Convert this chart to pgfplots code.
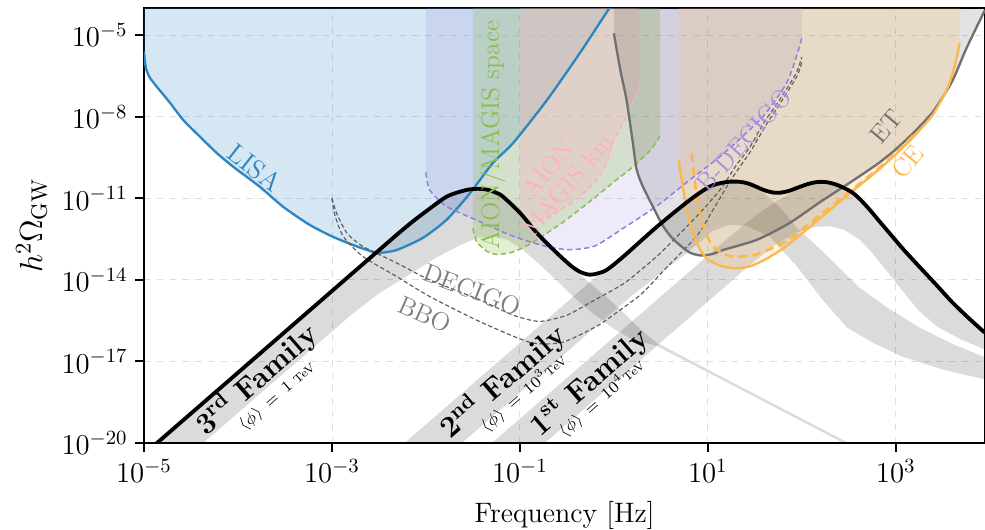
\RequirePackage{fix-cm}
\documentclass[border=0pt]{standalone}
\usepackage{pgfplots}
\pgfplotsset{compat=1.18}
\definecolor{lisablue}{RGB}{46,134,193}
\definecolor{aiongreen}{RGB}{140,190,75}
\definecolor{aionpink}{RGB}{255,176,188}
\definecolor{bdpurple}{RGB}{147,125,222}
\definecolor{etgray}{RGB}{112,112,112}
\definecolor{ceorange}{RGB}{252,183,78}
\definecolor{decgray}{RGB}{95,95,95}
\definecolor{labgray}{RGB}{125,125,125}
\begin{document}
\begin{tikzpicture}
\begin{axis}[name=ax, scale only axis, width=394.8pt, height=204.2pt,
  xmin=-5, xmax=3.95, ymin=-20, ymax=-4,
  xtick={-5,-3,-1,1,3}, xticklabels={$10^{-5}$,$10^{-3}$,$10^{-1}$,$10^{1}$,$10^{3}$},
  ytick={-20,-17,-14,-11,-8,-5}, yticklabels={$10^{-20}$,$10^{-17}$,$10^{-14}$,$10^{-11}$,$10^{-8}$,$10^{-5}$},
  tick align=outside, tick pos=left, major tick length=4.2pt,
  tick style={line width=0.9pt, black}, axis line style={line width=0.9pt},
  grid=major, grid style={dashed, line width=0.4pt, black!13},
  ticklabel style={font=\fontsize{13.5}{15}\selectfont},
  xlabel={Frequency [Hz]}, ylabel={$h^2\Omega_{\rm GW}$},
  xlabel style={font=\fontsize{13.2}{15}\selectfont, yshift=-2pt},
  ylabel style={font=\fontsize{15}{17}\selectfont},
  clip=true]

% ---------- family bands ----------
\addplot[draw=none, fill=black, fill opacity=0.14] coordinates {
(-5.2,-21) (-4.862,-20) (-2.6,-13.2) (-2.2,-12.02) (-1.96,-11.38) (-1.78,-10.94) (-1.64,-10.76) (-1.55,-10.68) (-1.45,-10.65) (-1.35,-10.68) (-1.25,-10.8) (-1.18,-10.94) (-1.0,-11.53) (-0.82,-12.27) (-0.61,-13.0) (-0.44,-13.55) (-0.255,-14.12) (-0.074,-14.65) (0.1,-15.2) (0.277,-15.8) (0.45,-16.3) (1.0,-17.3) (2.0,-19.1) (3.0,-20.9)
(3.0,-21.0) (2.0,-19.2) (1.0,-17.4) (0.45,-16.42) (0.2,-16.2) (0.0,-15.8) (-0.25,-15.15) (-0.44,-14.6) (-0.6,-14.05) (-0.8,-13.4) (-1.0,-12.8) (-1.15,-12.5) (-1.3,-12.4) (-1.45,-12.45) (-1.65,-12.75) (-1.9,-13.2) (-2.2,-13.85) (-2.5,-14.5) (-2.8,-15.3) (-4.37,-20) (-4.7,-21)
} -- cycle;
\addplot[draw=none, fill=black, fill opacity=0.14] coordinates {
(-2.56,-21) (-0.2,-13.92) (0.1,-13.05) (0.45,-12.05) (0.8,-11.08) (1.0,-10.62) (1.15,-10.43) (1.3,-10.38) (1.45,-10.5) (1.6,-10.82) (1.77,-11.35) (1.94,-12.05) (2.22,-12.95) (2.44,-13.7) (2.62,-14.3) (2.9,-15.0) (3.25,-15.75) (3.6,-16.35) (3.95,-16.85) (4.1,-17.0)
(4.1,-17.75) (3.95,-17.66) (3.5,-17.3) (3.07,-16.82) (2.75,-16.3) (2.48,-15.75) (2.22,-14.73) (1.95,-13.51) (1.66,-12.41) (1.415,-12.02) (1.234,-11.97) (1.05,-12.2) (0.8,-12.95) (0.5,-13.75) (0.17,-14.64) (-1.617,-20) (-1.95,-21)
} -- cycle;
\addplot[draw=none, fill=black, fill opacity=0.14] coordinates {
(-1.63,-21) (-1.298,-20) (1.2,-12.51) (1.5,-11.65) (1.73,-11.1) (1.9,-10.78) (2.085,-10.5) (2.19,-10.42) (2.27,-10.43) (2.37,-10.5) (2.543,-10.8) (2.723,-11.42) (2.904,-12.16) (3.074,-12.89) (3.255,-13.51) (3.436,-14.25) (3.606,-14.84) (3.787,-15.46) (3.947,-15.94) (4.1,-16.3)
(4.1,-16.75) (3.95,-16.56) (3.7,-16.2) (3.44,-15.72) (3.25,-15.15) (3.07,-14.4) (2.9,-13.65) (2.72,-12.89) (2.62,-12.53) (2.45,-12.15) (2.3,-12.03) (2.15,-12.05) (1.95,-12.25) (1.7,-12.75) (1.4,-13.6) (1.0,-14.8) (-0.734,-20) (-1.07,-21)
} -- cycle;

% ---------- detector fills ----------
\addplot[draw=none, fill=lisablue, fill opacity=0.2] coordinates {
(-5.0,-5.6) (-4.98,-6.2) (-4.94,-6.55) (-4.865,-6.89) (-4.72,-7.5) (-4.585,-8.11) (-4.4,-8.75) (-4.227,-9.33) (-4.05,-9.84) (-3.766,-10.58) (-3.52,-11.31) (-3.25,-11.95) (-3.0,-12.4) (-2.75,-12.75) (-2.52,-13.0) (-2.31,-12.9) (-2.03,-12.45) (-1.78,-11.79) (-1.53,-10.81) (-1.29,-9.71) (-1.07,-8.96) (-0.71,-7.38) (-0.36,-5.65) (-0.06,-4.07) (-0.04,-4.0) (-5.0,-4.0)
} -- cycle;
\addplot[draw=none, fill=bdpurple, fill opacity=0.16] coordinates {
(-2.0,-4) (-2.0,-10.05) (-1.96,-10.69) (-1.78,-11.3) (-1.43,-11.85) (-1.07,-12.4) (-0.72,-12.77) (-0.47,-12.89) (-0.2,-12.75) (0.1,-12.1) (0.45,-11.3) (0.81,-10.32) (1.17,-9.35) (1.585,-8.0) (1.84,-6.75) (1.96,-5.6) (2.0,-5.1) (2.0,-4)
} -- cycle;
\addplot[draw=none, fill=aiongreen, fill opacity=0.25] coordinates {
(-1.5,-4) (-1.5,-12.1) (-1.46,-12.6) (-1.35,-12.95) (-1.25,-13.06) (-1.1,-13.0) (-0.9,-12.7) (-0.55,-11.9) (-0.25,-11.1) (0.0,-10.4) (0.2,-9.85) (0.37,-9.3) (0.45,-8.95) (0.49,-8.7) (0.49,-4)
} -- cycle;
\addplot[draw=none, fill=aionpink, fill opacity=0.28] coordinates {
(-1.0,-4) (-1.0,-11.4) (-0.97,-11.7) (-0.9,-11.85) (-0.8,-11.8) (-0.6,-11.5) (-0.36,-10.93) (-0.18,-10.32) (-0.08,-9.71) (-0.01,-8.96) (0.135,-7.99) (0.27,-6.91) (0.27,-4)
} -- cycle;
\addplot[draw=none, fill=black, fill opacity=0.11] coordinates {
(0.0,-4) (0.0,-4.93) (0.07,-6.3) (0.135,-7.38) (0.2,-8.9) (0.24,-9.9) (0.3,-10.5) (0.415,-11.3) (0.52,-12.0) (0.63,-12.5) (0.8,-12.98) (0.92,-13.1) (1.05,-13.05) (1.163,-12.9) (1.52,-12.53) (1.87,-11.91) (2.19,-11.15) (2.5,-10.45) (2.8,-9.75) (3.0,-9.2) (3.2,-8.55) (3.4,-7.8) (3.6,-6.7) (3.75,-5.5) (3.95,-4.07) (3.95,-4)
} -- cycle;
\addplot[draw=none, fill=ceorange, fill opacity=0.18] coordinates {
(0.69,-4) (0.69,-9.6) (0.74,-10.7) (0.78,-11.5) (0.84,-12.3) (0.92,-12.9) (1.0,-13.25) (1.15,-13.5) (1.3,-13.57) (1.45,-13.5) (1.6,-13.27) (1.8,-12.85) (2.0,-12.3) (2.2,-11.72) (2.5,-10.85) (2.8,-10.0) (3.0,-9.38) (3.2,-8.7) (3.4,-7.9) (3.55,-6.95) (3.63,-6.1) (3.68,-5.3) (3.69,-4)
} -- cycle;

% ---------- detector curves ----------
\addplot[lisablue, line width=1.1pt, smooth, tension=0.4] coordinates {
(-5.0,-5.6) (-4.98,-6.2) (-4.94,-6.55) (-4.865,-6.89) (-4.72,-7.5) (-4.585,-8.11) (-4.4,-8.75) (-4.227,-9.33) (-4.05,-9.84) (-3.766,-10.58) (-3.52,-11.31) (-3.25,-11.95) (-3.0,-12.4) (-2.75,-12.75) (-2.52,-13.0) (-2.31,-12.9) (-2.03,-12.45) (-1.78,-11.79) (-1.53,-10.81) (-1.29,-9.71) (-1.07,-8.96) (-0.71,-7.38) (-0.36,-5.65) (-0.06,-4.07) (-0.04,-4.0)
};
\addplot[bdpurple, line width=0.7pt, dash pattern=on 2.5pt off 1.5pt, smooth, tension=0.4] coordinates {
(-2.0,-10.05) (-1.96,-10.69) (-1.78,-11.3) (-1.43,-11.85) (-1.07,-12.4) (-0.72,-12.77) (-0.47,-12.89) (-0.2,-12.75) (0.1,-12.1) (0.45,-11.3) (0.81,-10.32) (1.17,-9.35) (1.585,-8.0) (1.84,-6.75) (1.96,-5.6) (2.0,-5.1)
};
\addplot[aiongreen, line width=0.7pt, dash pattern=on 2.5pt off 1.5pt, smooth, tension=0.4] coordinates {
(-1.5,-12.1) (-1.46,-12.6) (-1.35,-12.95) (-1.25,-13.06) (-1.1,-13.0) (-0.9,-12.7) (-0.55,-11.9) (-0.25,-11.1) (0.0,-10.4) (0.2,-9.85) (0.37,-9.3) (0.45,-8.95) (0.49,-8.7)
};
\addplot[aionpink, line width=0.7pt, dash pattern=on 2.5pt off 1.5pt, smooth, tension=0.4] coordinates {
(-1.0,-11.4) (-0.97,-11.7) (-0.9,-11.85) (-0.8,-11.8) (-0.6,-11.5) (-0.36,-10.93) (-0.18,-10.32) (-0.08,-9.71) (-0.01,-8.96) (0.135,-7.99) (0.27,-6.91)
};
\addplot[decgray, line width=0.55pt, dash pattern=on 2pt off 1.2pt, smooth, tension=0.4] coordinates {
(-3.0,-11.0) (-2.95,-11.55) (-2.84,-12.28) (-2.67,-12.77) (-2.31,-13.38) (-1.96,-14.0) (-1.43,-14.73) (-1.07,-15.3) (-0.79,-15.53) (-0.5,-15.3) (-0.255,-14.84) (0.1,-14.15) (0.3,-13.6) (0.5,-13.0) (0.88,-11.67) (1.13,-10.69) (1.3,-9.8) (1.45,-9.1) (1.6,-8.2) (1.77,-7.35) (1.94,-6.4) (2.0,-5.8)
};
\addplot[decgray, line width=0.55pt, dash pattern=on 2pt off 1.2pt, smooth, tension=0.4] coordinates {
(-3.0,-11.0) (-2.97,-11.6) (-2.88,-12.4) (-2.67,-13.14) (-2.31,-13.88) (-1.96,-14.61) (-1.43,-15.53) (-0.89,-16.3) (-0.55,-16.3) (-0.18,-15.7) (0.05,-15.15) (0.3,-14.5) (0.56,-13.55) (0.88,-12.4) (1.056,-11.42) (1.25,-10.3) (1.45,-9.3) (1.62,-8.3) (1.79,-7.4) (1.95,-6.5) (2.0,-6.0)
};
\addplot[etgray, line width=1.1pt, smooth, tension=0.4] coordinates {
(0.0,-4.93) (0.07,-6.3) (0.135,-7.38) (0.2,-8.9) (0.24,-9.9) (0.3,-10.5) (0.415,-11.3) (0.52,-12.0) (0.63,-12.5) (0.8,-12.98) (0.92,-13.1) (1.05,-13.05) (1.163,-12.9) (1.52,-12.53) (1.87,-11.91) (2.19,-11.15) (2.5,-10.45) (2.8,-9.75) (3.0,-9.2) (3.2,-8.55) (3.4,-7.8) (3.6,-6.7) (3.75,-5.5) (3.95,-4.07)
};
\addplot[ceorange, line width=1.1pt, smooth, tension=0.4] coordinates {
(0.69,-9.6) (0.74,-10.7) (0.78,-11.5) (0.84,-12.3) (0.92,-12.9) (1.0,-13.25) (1.15,-13.5) (1.3,-13.57) (1.45,-13.5) (1.6,-13.27) (1.8,-12.85) (2.0,-12.3) (2.2,-11.72) (2.5,-10.85) (2.8,-10.0) (3.0,-9.38) (3.2,-8.7) (3.4,-7.9) (3.55,-6.95) (3.63,-6.1) (3.68,-5.3)
};
\addplot[ceorange, line width=1.3pt, dash pattern=on 4pt off 2.5pt, smooth, tension=0.4] coordinates {
(0.83,-9.35) (0.88,-10.9) (0.95,-12.0) (1.05,-12.75) (1.23,-13.12) (1.5,-13.08) (1.85,-12.55) (2.2,-11.6) (2.5,-10.78) (2.8,-9.95) (3.0,-9.33) (3.2,-8.65)
};

% ---------- total spectrum ----------
\addplot[black, line width=1.8pt, line join=round, smooth, tension=0.5] coordinates {
(-5.2,-21) (-4.862,-20) (-2.6,-13.21) (-2.2,-12.02) (-1.96,-11.38) (-1.78,-10.94) (-1.64,-10.76) (-1.55,-10.68) (-1.45,-10.65) (-1.35,-10.68) (-1.25,-10.8) (-1.18,-10.94) (-1.0,-11.53) (-0.82,-12.27) (-0.61,-13.0) (-0.45,-13.5) (-0.35,-13.72) (-0.255,-13.81) (-0.17,-13.76) (-0.074,-13.63) (0.096,-13.16) (0.457,-12.05) (0.809,-11.06) (1.02,-10.57) (1.15,-10.43) (1.234,-10.39) (1.33,-10.39) (1.415,-10.44) (1.5,-10.55) (1.6,-10.7) (1.7,-10.79) (1.78,-10.79) (1.87,-10.72) (1.97,-10.59) (2.07,-10.47) (2.17,-10.4) (2.27,-10.41) (2.37,-10.5) (2.45,-10.62) (2.543,-10.8) (2.63,-11.07) (2.723,-11.42) (2.81,-11.78) (2.904,-12.16) (3.074,-12.85) (3.255,-13.53) (3.436,-14.2) (3.606,-14.84) (3.787,-15.44) (3.947,-15.94)
};

% ---------- labels ----------
\node[lisablue, rotate=-38, font=\fontsize{12.5}{14}\selectfont] at (axis cs:-3.82,-9.87) {LISA};
\node[aiongreen, rotate=90, font=\fontsize{12}{14}\selectfont] at (axis cs:-1.29,-8.67) {AION/MAGIS space};
\node[aionpink, rotate=50, font=\fontsize{12}{12}\selectfont, align=center] at (axis cs:-0.6,-10.2) {AION\\MAGIS km};
\node[bdpurple!85, rotate=48, font=\fontsize{12}{14}\selectfont] at (axis cs:1.39,-8.85) {B-DECIGO};
\node[etgray, rotate=50, font=\fontsize{12}{14}\selectfont] at (axis cs:2.9,-8.37) {ET};
\node[ceorange, rotate=50, font=\fontsize{12}{14}\selectfont] at (axis cs:3.13,-9.66) {CE};
\node[labgray, rotate=-21, font=\fontsize{12}{14}\selectfont] at (axis cs:-1.51,-14.36) {DECIGO};
\node[labgray, rotate=-24, font=\fontsize{12}{14}\selectfont] at (axis cs:-2.01,-15.28) {BBO};
\node[rotate=41, font=\fontsize{14}{16}\selectfont\bfseries] at (axis cs:-3.80,-17.67) {3\textsuperscript{rd} Family};
\node[rotate=41, font=\fontsize{7.5}{9}\selectfont] at (axis cs:-3.58,-18.29) {$\langle\phi\rangle \,=\, 1$\,\,{\fontsize{5.5}{6}\selectfont TeV}};
\node[rotate=41, font=\fontsize{14}{16}\selectfont\bfseries] at (axis cs:-1.18,-17.73) {2\textsuperscript{nd} Family};
\node[rotate=41, font=\fontsize{7.5}{9}\selectfont] at (axis cs:-0.96,-18.16) {$\langle\phi\rangle \,=\, 10^{3}${\fontsize{5.5}{6}\selectfont TeV}};
\node[rotate=41, font=\fontsize{14}{16}\selectfont\bfseries] at (axis cs:-0.255,-17.76) {1\textsuperscript{st} Family};
\node[rotate=41, font=\fontsize{7.5}{9}\selectfont] at (axis cs:-0.13,-18.35) {$\langle\phi\rangle \,=\, 10^{4}${\fontsize{5.5}{6}\selectfont TeV}};
\end{axis}
\pgfresetboundingbox
\path ([shift={(-67.6pt,-40.4pt)}]ax.south west) rectangle ([shift={(0pt,3.76pt)}]ax.north east);
\end{tikzpicture}
\end{document}
